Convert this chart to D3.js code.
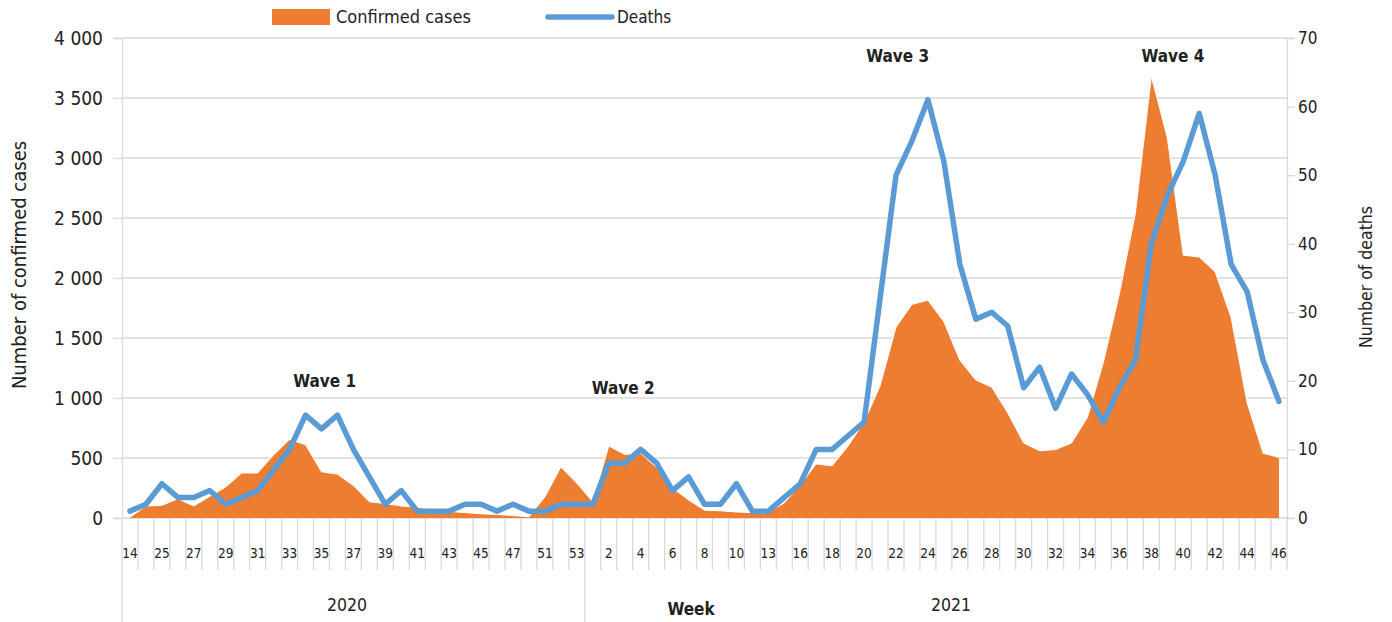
<!DOCTYPE html>
<html><head><meta charset="utf-8">
<script src="https://cdn.jsdelivr.net/npm/d3@7"></script>
<style>
body{margin:0;background:#fff;}
svg text{font-family:"Liberation Sans Narrow","Arial Narrow","DejaVu Sans Condensed","Liberation Sans",sans-serif;fill:#222;}
</style></head>
<body><svg id="c" width="1392" height="622"></svg>
<script>
const weeks = ["14","24","25","26","27","28","29","30","31","32","33","34","35","36","37","38","39","40","41","42","43","44","45","46","47","49","51","52","53",
 "1","2","3","4","5","6","7","8","9","10","12","13","14","16","17","18","19","20","21","22","23","24","25","26","27","28","29","30","31","32","33","34","35","36","37","38","39","40","41","42","43","44","45","46"];
const years = ["2020","2021"];
const yearCounts = [29,44];
const cases = [5,100,105,160,100,180,258,375,375,525,655,610,385,365,270,135,120,100,90,70,55,45,35,30,20,10,175,425,290,
 135,600,530,540,420,250,150,65,60,50,45,50,125,275,450,435,600,800,1100,1590,1780,1815,1635,1315,1150,1090,875,625,560,570,625,840,1300,1870,2540,3680,3170,2190,2175,2050,1670,960,540,505];
const deaths = [1,2,5,3,3,4,2,3,4,7,10,15,13,15,10,6,2,4,1,1,1,2,2,1,2,1,1,2,2,
 2,8,8,10,8,4,6,2,2,5,1,1,3,5,10,10,12,14,32,50,55,61,52,37,29,30,28,19,22,16,21,18,14,19,23,40,47,52,59,50,37,33,23,17];
const caseTicks = [0,500,1000,1500,2000,2500,3000,3500,4000];
const deathTicks = [0,10,20,30,40,50,60,70];
const waves = [{t:"Wave 1",i:12.2,v:1142},{t:"Wave 2",i:30.9,v:1083},{t:"Wave 3",i:48.1,v:3850},{t:"Wave 4",i:65.35,v:3850}];

const ORANGE="#ED7D31", BLUE="#5B9BD5", GRID="#d9d9d9";
const L=122,R=1287,T=38,B=518;
const svg=d3.select("#c");
const idx=d3.range(weeks.length);
const x=d3.scaleBand().domain(idx).range([L,R]).padding(0);
const bw=x.bandwidth();
const cx=i=>x(i)+bw/2;
const xc=d3.scaleLinear().domain([-0.5,weeks.length-0.5]).range([L,R]);
const yL=d3.scaleLinear().domain([0,4000]).range([B,T]);
const yR=d3.scaleLinear().domain([0,70]).range([B,T]);
const fmt=v=>d3.format(",")(v).replace(/,/g," ");

// gridlines
svg.append("g").selectAll("line").data(caseTicks.slice(1)).join("line")
 .attr("x1",L).attr("x2",R).attr("y1",d=>yL(d)).attr("y2",d=>yL(d))
 .attr("stroke",GRID).attr("stroke-width",1.3);

// left axis
const gl=svg.append("g").attr("transform",`translate(${L},0)`)
 .call(d3.axisLeft(yL).tickValues(caseTicks).tickFormat(fmt).tickSize(9).tickPadding(10));
gl.select(".domain").attr("stroke",GRID).attr("stroke-width",1.3);
gl.selectAll(".tick line").attr("stroke",GRID).attr("stroke-width",1.3);
gl.selectAll(".tick text").attr("font-size",19).attr("fill","#222");

// right axis
const gr=svg.append("g").attr("transform",`translate(${R},0)`)
 .call(d3.axisRight(yR).tickValues(deathTicks).tickSize(8).tickPadding(3));
gr.select(".domain").attr("stroke",GRID).attr("stroke-width",1.3);
gr.selectAll(".tick line").attr("stroke",GRID).attr("stroke-width",1.3);
gr.selectAll(".tick text").attr("font-size",17).attr("fill","#222");

// category axis lines
const bounds=d3.range(weeks.length+1);
svg.append("g").selectAll("line").data(bounds).join("line")
 .attr("x1",i=>i<weeks.length?x(i):R).attr("x2",i=>i<weeks.length?x(i):R)
 .attr("y1",B).attr("y2",i=>(i===0||i===yearCounts[0])?622:570)
 .attr("stroke",GRID).attr("stroke-width",1.3);
svg.append("line").attr("x1",L).attr("x2",R).attr("y1",B).attr("y2",B).attr("stroke",GRID).attr("stroke-width",1.3);

// category labels
const gx=svg.append("g").attr("transform",`translate(0,${B})`)
 .call(d3.axisBottom(x).tickSize(0).tickPadding(30).tickFormat(i=>i%2===0?weeks[i]:""));
gx.select(".domain").remove();
gx.selectAll(".tick text").attr("font-size",13.5).attr("fill","#222");

// year labels
svg.append("text").attr("x",347).attr("y",605).attr("dy","0.35em").attr("text-anchor","middle").attr("font-size",17.5).text(years[0]);
svg.append("text").attr("x",951).attr("y",605).attr("dy","0.35em").attr("text-anchor","middle").attr("font-size",17.5).text(years[1]);
svg.append("text").attr("x",691).attr("y",609).attr("dy","0.35em").attr("text-anchor","middle").attr("font-size",17).attr("font-weight","bold").text("Week");

// area
const area=d3.area().x((d,i)=>cx(i)).y0(B).y1(d=>yL(d));
svg.append("path").datum(cases).attr("d",area).attr("fill",ORANGE);
svg.append("path").datum(cases).attr("d",d3.line().x((d,i)=>cx(i)).y(d=>yL(d))).attr("fill","none").attr("stroke","#fff").attr("stroke-width",1);

// deaths line
svg.append("path").datum(deaths).attr("d",d3.line().x((d,i)=>cx(i)).y(d=>yR(d)))
 .attr("fill","none").attr("stroke",BLUE).attr("stroke-width",5.5).attr("stroke-linejoin","round").attr("stroke-linecap","round");

// wave labels
svg.append("g").selectAll("text").data(waves).join("text")
 .attr("x",d=>xc(d.i)).attr("y",d=>yL(d.v)).attr("dy","0.35em").attr("text-anchor","middle")
 .attr("font-size",17).attr("font-weight","bold").text(d=>d.t);

// axis titles
svg.append("text").attr("transform","translate(19,265) rotate(-90)").attr("dy","0.35em").attr("text-anchor","middle").attr("font-size",20).text("Number of confirmed cases");
svg.append("text").attr("transform","translate(1366,277) rotate(-90)").attr("dy","0.35em").attr("text-anchor","middle").attr("font-size",17.5).text("Number of deaths");

// legend
svg.append("rect").attr("x",272).attr("y",9).attr("width",58).attr("height",16).attr("fill",ORANGE);
svg.append("text").attr("x",336).attr("y",17).attr("dy","0.35em").attr("font-size",18).text("Confirmed cases");
svg.append("line").attr("x1",548).attr("x2",612).attr("y1",17).attr("y2",17).attr("stroke",BLUE).attr("stroke-width",5.5).attr("stroke-linecap","round");
svg.append("text").attr("x",617).attr("y",17).attr("dy","0.35em").attr("font-size",17).text("Deaths");
</script></body></html>
